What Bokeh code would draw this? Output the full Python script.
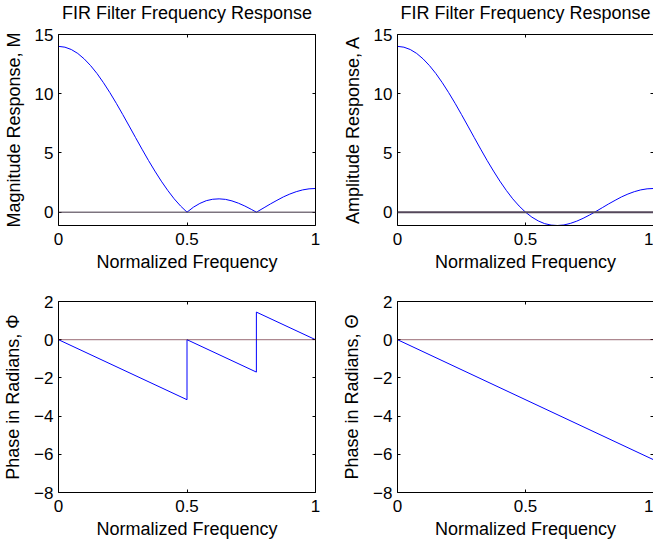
from bokeh.plotting import figure
from bokeh.layouts import column, row
from bokeh.models import LinearAxis, FixedTicker, Range1d, Span
from bokeh.embed import file_html
from bokeh.resources import INLINE

# Normalized frequency grid (fraction of pi)
freq = [0.0, 0.025, 0.05, 0.075, 0.1, 0.125, 0.15, 0.175, 0.2, 0.225,
        0.25, 0.275, 0.3, 0.325, 0.35, 0.375, 0.4, 0.425, 0.45, 0.475,
        0.5, 0.525, 0.55, 0.575, 0.6, 0.625, 0.65, 0.675, 0.7, 0.725,
        0.75, 0.77, 0.775, 0.8, 0.825, 0.85, 0.875, 0.9, 0.925, 0.95,
        0.975, 1.0]

# Amplitude response A (signed)
amplitude = [14.0, 13.93, 13.73, 13.40, 12.94, 12.37, 11.70, 10.93, 10.09, 9.19,
             8.24, 7.27, 6.29, 5.32, 4.37, 3.47, 2.62, 1.84, 1.13, 0.52,
             0.0, -0.42, -0.74, -0.97, -1.09, -1.125, -1.08, -0.95, -0.76, -0.52,
             -0.24, 0.0, 0.06, 0.38, 0.70, 1.00, 1.29, 1.53, 1.73, 1.88,
             1.97, 2.0]

# Magnitude response M
magnitude = [14.0, 13.93, 13.73, 13.40, 12.94, 12.37, 11.70, 10.93, 10.09, 9.19,
             8.24, 7.27, 6.29, 5.32, 4.37, 3.47, 2.62, 1.84, 1.13, 0.52,
             0.0, 0.42, 0.74, 0.97, 1.09, 1.125, 1.08, 0.95, 0.76, 0.52,
             0.24, 0.0, 0.06, 0.38, 0.70, 1.00, 1.29, 1.53, 1.73, 1.88,
             1.97, 2.0]

# Phase of the magnitude response, Phi (jumps by pi at the zeros)
phi_freq = [0.0, 0.5, 0.5, 0.77, 0.77, 1.0]
phi = [0.0, -3.1416, 0.0, -1.696, 1.445, 0.0]

# Linear phase of the amplitude response, Theta
theta_freq = [0.0, 1.0]
theta = [0.0, -6.2832]

x_ticks = [0, 0.5, 1]
x_tick_labels = {0: "0", 0.5: "0.5", 1: "1"}
top_y_ticks = [0, 5, 10, 15]
top_y_labels = {0: "0", 5: "5", 10: "10", 15: "15"}
bot_y_ticks = [-8, -6, -4, -2, 0, 2]
bot_y_labels = {-8: "\u22128", -6: "\u22126", -4: "\u22124", -2: "\u22122", 0: "0", 2: "2"}

TITLE = "FIR Filter Frequency Response"
XLABEL = "Normalized Frequency"
FONT = "Liberation Sans"
TICK_SIZE = "17px"
LABEL_SIZE = "18px"


def style_axis(ax, ticks, labels):
    ax.ticker = FixedTicker(ticks=ticks)
    ax.major_label_overrides = labels
    ax.major_label_text_font = FONT
    ax.major_label_text_font_size = TICK_SIZE
    ax.major_label_text_color = "black"
    ax.major_tick_in = 3
    ax.major_tick_out = 0
    ax.minor_tick_line_color = None
    ax.axis_line_color = "black"
    ax.major_tick_line_color = "black"
    ax.axis_label_text_font = FONT
    ax.axis_label_text_font_size = LABEL_SIZE
    ax.axis_label_text_font_style = "normal"
    ax.axis_label_text_color = "black"


def bare_axis(ticks, line, tick_color="black", tick_in=3, tick_out=0):
    """Unlabelled axis used for the box edges and their inward ticks."""
    return LinearAxis(ticker=FixedTicker(ticks=ticks),
                      major_label_text_font_size="0px",
                      major_label_text_color=None,
                      major_label_standoff=0,
                      major_tick_in=tick_in, major_tick_out=tick_out,
                      minor_tick_line_color=None,
                      axis_line_color="black" if line else None,
                      major_tick_line_color=tick_color)


def panel(width, height, left, right, top, bottom, y_range, y_ticks, y_labels,
          ylabel, title=None, right_line=True):
    p = figure(width=width, height=height,
               x_range=Range1d(0, 1), y_range=Range1d(*y_range),
               output_backend="svg", toolbar_location=None,
               min_border_left=left, min_border_right=right,
               min_border_top=top, min_border_bottom=bottom,
               background_fill_color="white", border_fill_color="white")
    p.outline_line_color = None
    p.grid.visible = False
    style_axis(p.xaxis[0], x_ticks, x_tick_labels)
    style_axis(p.yaxis[0], y_ticks, y_labels)
    p.xaxis[0].axis_label = XLABEL
    p.xaxis[0].major_label_standoff = 7
    p.xaxis[0].axis_label_standoff = 4
    p.yaxis[0].axis_label = ylabel
    p.yaxis[0].major_label_standoff = 5
    p.yaxis[0].axis_label_standoff = 8
    p.add_layout(bare_axis(x_ticks, True), "above")
    p.add_layout(bare_axis(y_ticks, right_line), "right")
    if title:
        # invisible spacer between the box and the title
        p.add_layout(bare_axis(x_ticks, False, tick_color=None, tick_in=0, tick_out=12), "above")
        p.title.text = title
        p.title.align = "center"
        p.title.text_font = FONT
        p.title.text_font_size = LABEL_SIZE
        p.title.text_font_style = "normal"
        p.title.text_color = "black"
        p.title.standoff = 0
    return p


TOP_H = 275
BOT_H = 542 - TOP_H

# Top-left: magnitude response
p1 = panel(330, TOP_H, 58, 15, 33, TOP_H - 225, (-1.125, 15), top_y_ticks, top_y_labels,
           "Magnitude Response, M", TITLE)
p1.add_layout(Span(location=0, dimension="width", line_color="#3e3040", line_width=1))
p1.line(freq, magnitude, line_color="#0000ff", line_width=1)

# Top-right: amplitude response
p2 = panel(323, TOP_H, 67, 0, 33, TOP_H - 225, (-1.125, 15), top_y_ticks, top_y_labels,
           "Amplitude Response, A", TITLE, right_line=False)
p2.add_layout(Span(location=0, dimension="width", line_color="#54475a", line_width=2))
p2.line(freq, amplitude, line_color="#0000ff", line_width=1)

# Bottom-left: phase of the magnitude response
p3 = panel(330, BOT_H, 58, 15, 301 - TOP_H, 542 - 492, (-8, 2), bot_y_ticks, bot_y_labels,
           "Phase in Radians, \u03a6")
p3.add_layout(Span(location=0, dimension="width", line_color="#5a1020",
                   line_width=1.2, line_dash="1 1"))
p3.line(phi_freq, phi, line_color="#0000ff", line_width=1)

# Bottom-right: phase of the amplitude response
p4 = panel(323, BOT_H, 67, 0, 301 - TOP_H, 542 - 492, (-8, 2), bot_y_ticks, bot_y_labels,
           "Phase in Radians, \u0398", right_line=False)
p4.add_layout(Span(location=0, dimension="width", line_color="#5a1020",
                   line_width=1.2, line_dash="1 1"))
p4.line(theta_freq, theta, line_color="#0000ff", line_width=1)

layout = column(row(p1, p2), row(p3, p4))

open("out.html", "w").write(file_html(layout, INLINE))
